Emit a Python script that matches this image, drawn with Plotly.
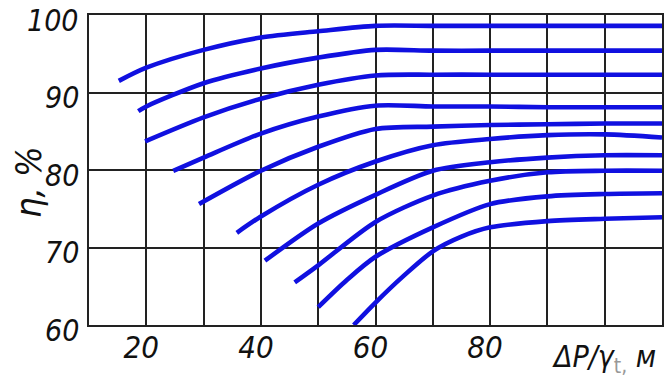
import plotly.graph_objects as go

# ---- data ----
dP_1 = [15.2, 20, 30, 40, 50, 60, 70, 80, 90, 100, 110]
eta_1 = [91.5, 93.2, 95.5, 97.1, 97.9, 98.6, 98.6, 98.6, 98.6, 98.6, 98.6]

dP_2 = [18.6, 20, 30, 40, 50, 60, 70, 80, 90, 100, 110]
eta_2 = [87.6, 88.2, 91.2, 93.1, 94.5, 95.5, 95.4, 95.4, 95.4, 95.4, 95.4]

dP_3 = [19.8, 30, 40, 50, 60, 70, 80, 90, 100, 110]
eta_3 = [83.7, 86.8, 89.2, 91.0, 92.2, 92.3, 92.3, 92.3, 92.3, 92.3]

dP_4 = [24.7, 30, 40, 50, 60, 70, 80, 90, 100, 110]
eta_4 = [79.9, 81.6, 84.7, 86.9, 88.3, 88.2, 88.2, 88.1, 88.1, 88.1]

dP_5 = [29.2, 40, 50, 60, 70, 80, 90, 100, 110]
eta_5 = [75.6, 79.9, 83.0, 85.3, 85.6, 85.8, 85.9, 86.0, 86.0]

dP_6 = [35.8, 40, 50, 60, 70, 80, 90, 100, 110]
eta_6 = [71.9, 74.0, 78.1, 81.1, 83.2, 84.0, 84.5, 84.6, 84.2]

dP_7 = [40.7, 50, 60, 70, 80, 90, 100, 110]
eta_7 = [68.3, 73.1, 76.8, 79.9, 81.0, 81.6, 81.9, 81.9]

dP_8 = [45.9, 50, 60, 70, 80, 90, 100, 110]
eta_8 = [65.5, 67.7, 73.3, 76.7, 78.6, 79.7, 79.9, 79.9]

dP_9 = [50.0, 55, 60, 70, 80, 90, 100, 110]
eta_9 = [62.3, 65.8, 68.8, 72.6, 75.6, 76.6, 76.9, 77.0]

dP_10 = [56.2, 60, 65, 70, 75, 80, 90, 100, 110]
eta_10 = [60.0, 62.9, 66.4, 69.5, 71.4, 72.6, 73.4, 73.7, 73.9]

x_tick_vals = [20, 40, 60, 80]
x_tick_text = ["20", "40", "60", "80"]
y_tick_vals = [60, 70, 80, 90, 100]
y_tick_text = ["60", "70", "80", "90", "100"]

x_title = "<i>ΔP/γ</i><sub><span style='color:#999'>t,</span></sub> <i>м</i>"
y_title = "<i>η, %</i>"

# ---- figure ----
BLUE = "#1010e0"
FONT = "Liberation Sans Narrow, DejaVu Sans Condensed, Arial Narrow, Roboto, sans-serif"
W, H = 668, 381
L, R, T, B = 89, 6, 15, 56
PW, PH = W - L - R, H - T - B

series = [(dP_1, eta_1), (dP_2, eta_2), (dP_3, eta_3), (dP_4, eta_4), (dP_5, eta_5),
          (dP_6, eta_6), (dP_7, eta_7), (dP_8, eta_8), (dP_9, eta_9), (dP_10, eta_10)]

fig = go.Figure()
for xs, ys in series:
    fig.add_trace(go.Scatter(x=xs, y=ys, mode="lines",
                             line=dict(color=BLUE, width=4.6, shape="spline", smoothing=0.8),
                             showlegend=False, hoverinfo="skip"))

grid = dict(showline=True, linecolor="#222", linewidth=1.5, mirror=True,
            showgrid=True, gridcolor="#222", gridwidth=1.5, zeroline=False,
            ticks="", automargin=False)

fig.update_xaxes(range=[10, 110], tickmode="array", tickvals=x_tick_vals, ticktext=x_tick_text,
                 tickfont=dict(family=FONT, size=31, color="#111", style="italic", weight=300),
                 ticklabelshift=-5, ticklabelstandoff=-6,
                 minor=dict(tickmode="linear", tick0=10, dtick=10, showgrid=True,
                            gridcolor="#222", gridwidth=1.5, ticks=""),
                 **grid)
fig.update_yaxes(range=[60, 100], showticklabels=False, tickmode="array", tickvals=y_tick_vals,
                 **grid)

# y tick labels as text placed on the y scale
for v, txt in zip(y_tick_vals, y_tick_text):
    fig.add_annotation(x=(81 - L) / PW, xref="paper", y=v, yref="y", text=f"<i>{txt}</i>",
                       showarrow=False, xanchor="right", yanchor="middle", yshift=-5,
                       font=dict(family=FONT, size=30, color="#111", weight=300))

fig.add_annotation(x=(658 - L) / PW, y=(H - B - 358) / PH, xref="paper", yref="paper",
                   text=x_title, showarrow=False, xanchor="right", yanchor="middle",
                   font=dict(family=FONT, size=30, color="#111", weight=300))
fig.add_annotation(x=(28 - L) / PW, y=(H - B - 182) / PH, xref="paper", yref="paper",
                   text=y_title, showarrow=False, textangle=-90,
                   xanchor="center", yanchor="middle",
                   font=dict(family=FONT, size=36, color="#111", weight=300))

fig.update_layout(width=W, height=H, margin=dict(l=L, r=R, t=T, b=B),
                  paper_bgcolor="white", plot_bgcolor="white")

fig.write_html("out.html", config={"displayModeBar": False},
               post_script="document.body.style.margin='0';document.body.style.padding='0';")
